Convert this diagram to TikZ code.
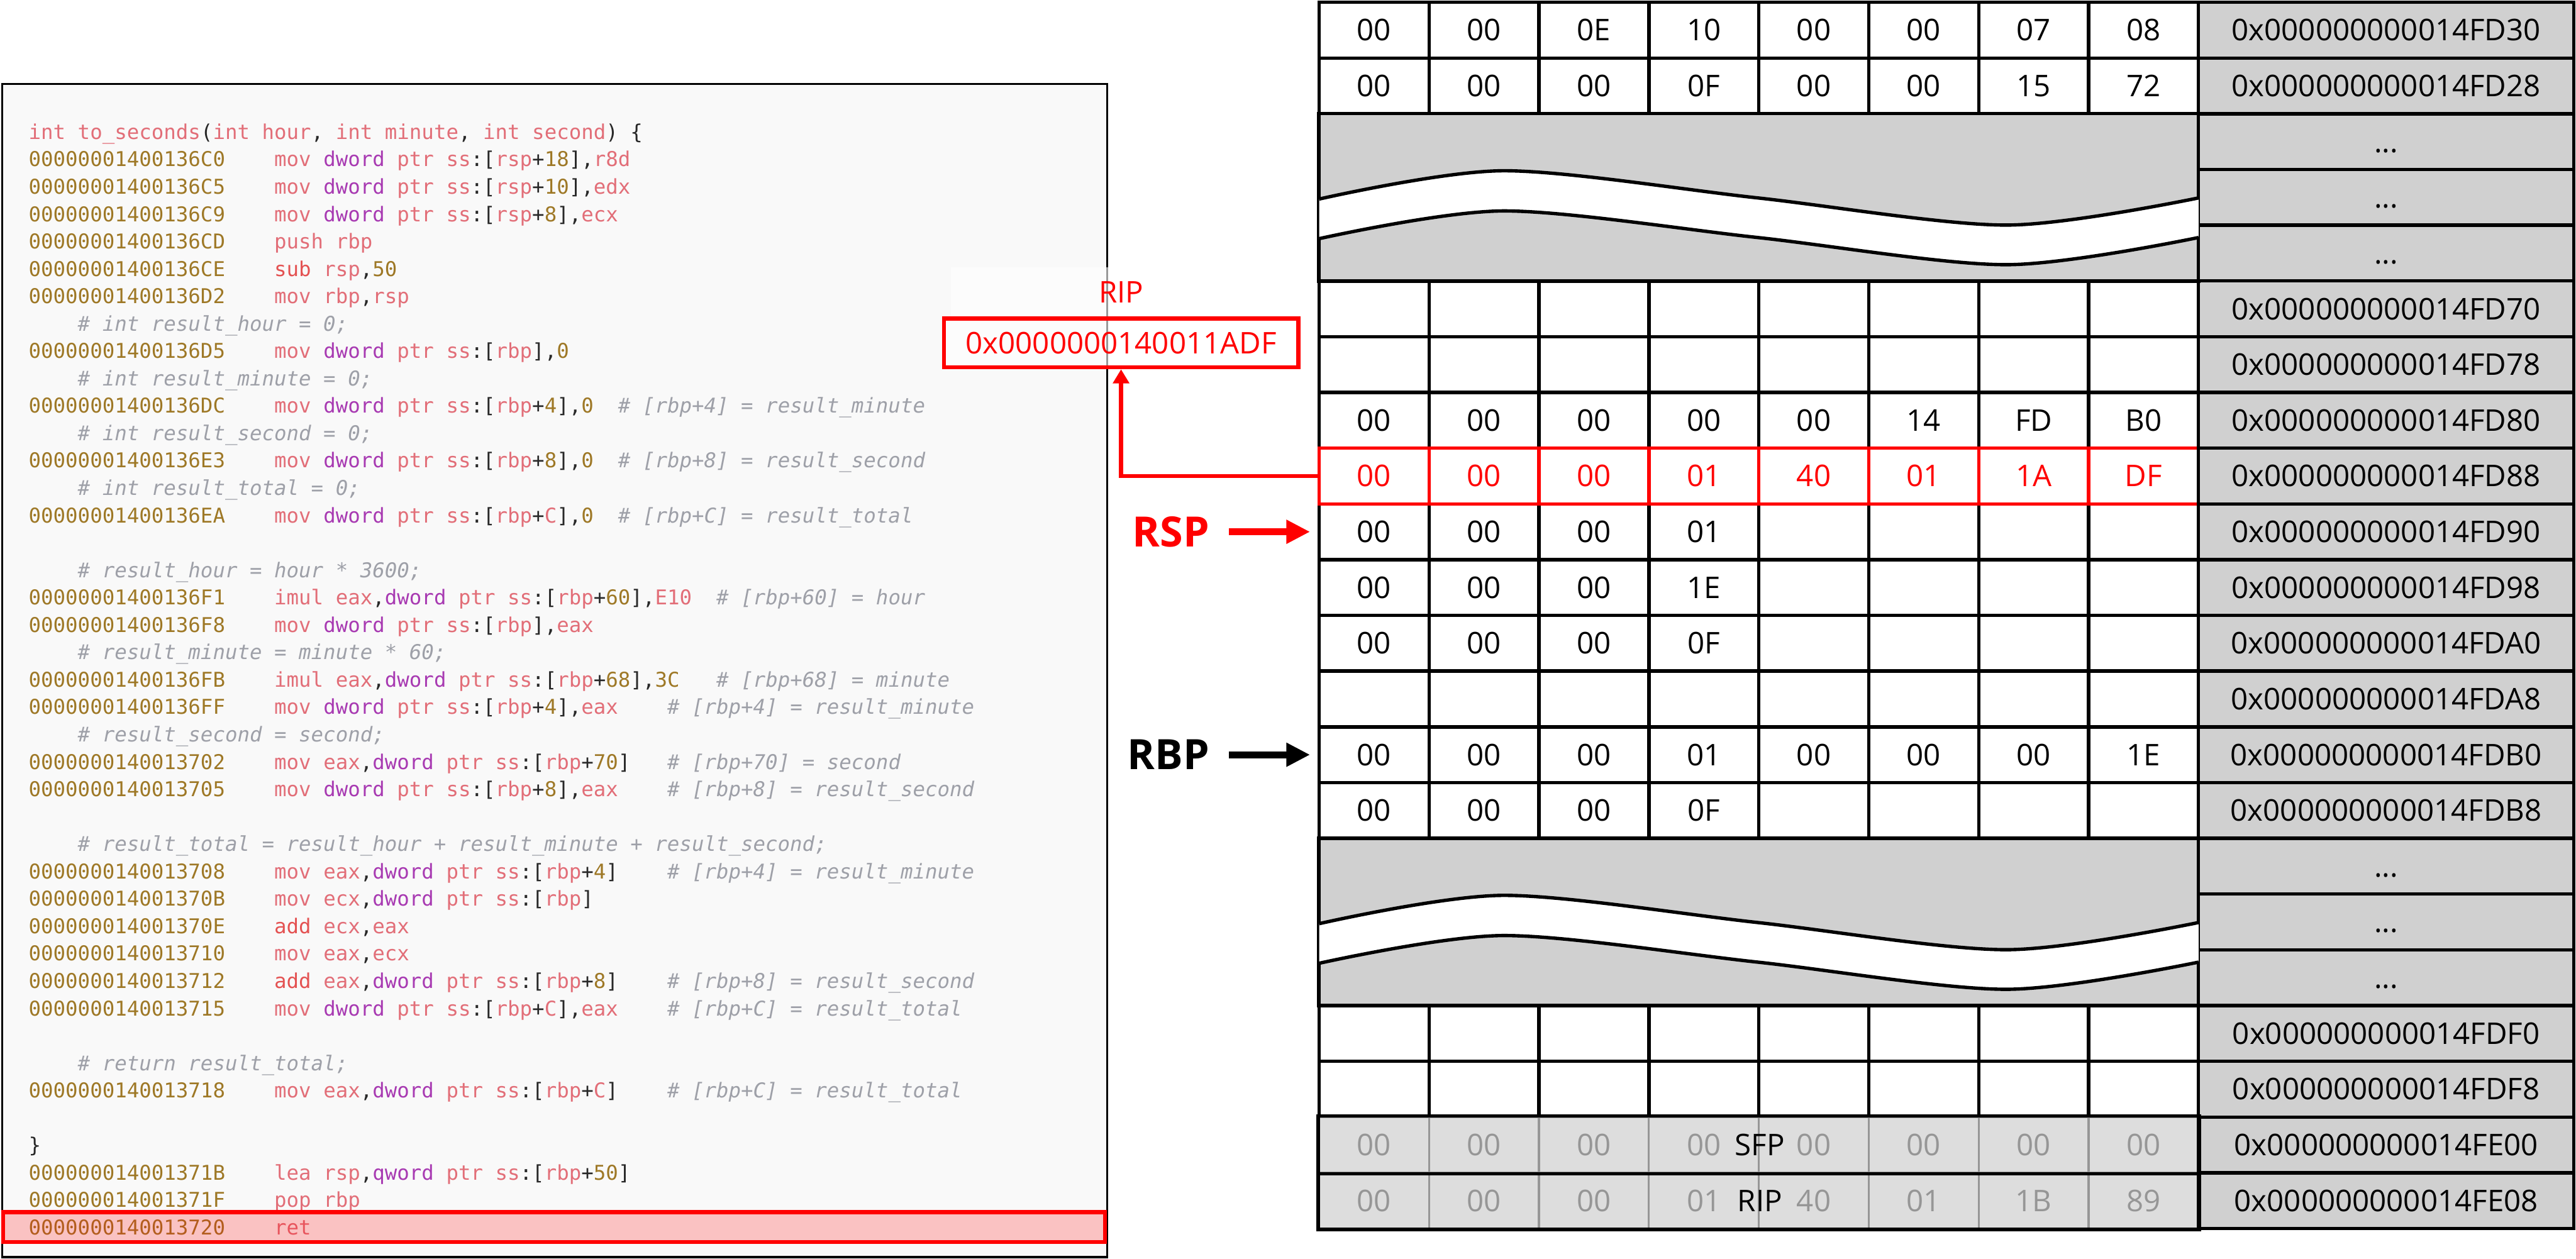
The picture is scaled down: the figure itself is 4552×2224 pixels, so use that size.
\documentclass[tikz,border=0pt]{standalone}
\usepackage{fontspec}
\setmainfont{Open Sans}
\setmonofont{DejaVu Sans Mono}
\usepackage{xcolor}
\usetikzlibrary{arrows.meta,positioning}

\definecolor{addrgold}{RGB}{158,120,38}
\definecolor{opink}{RGB}{226,110,120}
\definecolor{opred}{RGB}{228,82,82}
\definecolor{ptrpurple}{RGB}{168,58,178}
\definecolor{cmtgray}{RGB}{158,160,168}
\definecolor{punct}{RGB}{40,40,40}
\definecolor{panelbg}{RGB}{249,249,249}
\definecolor{tblgray}{RGB}{208,208,208}
\definecolor{fadegray}{RGB}{221,221,221}
\definecolor{fadetxt}{RGB}{150,150,150}
\definecolor{hotred}{RGB}{255,0,0}

% --- listing colours ---
\newcommand\addr[1]{\textcolor{addrgold}{#1}}
\newcommand\opc[1]{\textcolor{opink}{#1}}
\newcommand\opr[1]{\textcolor{opred}{#1}}
\newcommand\ptrw[1]{\textcolor{ptrpurple}{#1}}
\newcommand\hexv[1]{\textcolor{addrgold}{#1}}
\newcommand\cmt[1]{\textcolor{cmtgray}{\itshape #1}}

\begin{document}
\frenchspacing
\begin{tikzpicture}[
  % --- global style ---
  x=0.01cm, y=-0.01cm,
  >=Stealth,
  codepanel/.style={
    draw=black, line width=1pt, fill=panelbg,
    minimum width=19.52cm, minimum height=20.72cm, inner sep=0pt
  },
  codeln/.style={
    anchor=base west, inner sep=0pt, text=punct,
    font=\ttfamily\fontsize{10.25}{12}\selectfont
  },
  retmark/.style={
    draw=hotred, line width=2pt, fill=hotred, fill opacity=0.22,
    minimum width=19.46cm, minimum height=0.53cm, inner sep=0pt
  },
  cell/.style={
    draw=black, line width=1.7pt, fill=white, inner sep=0pt,
    minimum width=1.9425cm, minimum height=0.985cm
  },
  hotcell/.style={cell, draw=hotred},
  fadecell/.style={cell, draw=fadetxt, line width=1pt, fill=fadegray},
  addrcell/.style={
    cell, fill=tblgray, minimum width=6.63cm,
    text height=10.7pt, text depth=0pt, font=\fontsize{15}{18}\selectfont
  },
  byte/.style={
    inner sep=0pt, text height=10.7pt, text depth=0pt,
    font=\fontsize{15}{18}\selectfont
  },
  brk/.style={
    draw=black, line width=1.7pt, fill=tblgray, inner sep=0pt,
    minimum width=15.54cm, minimum height=2.955cm
  },
  wave/.style={draw=black, line width=1.7pt},
  ptrlbl/.style={inner sep=0pt, font=\bfseries\fontsize{21}{24}\selectfont},
  ptrarr/.style={
    -{Triangle[length=0.42cm,width=0.40cm]}, line width=3.4pt,
    shorten <=0.34cm, shorten >=0.13cm
  },
  ripbox/.style={
    draw=hotred, line width=2pt, fill=white, fill opacity=0.6, text opacity=1,
    text=hotred, minimum width=6.26cm, minimum height=0.86cm, inner sep=0pt,
    font=\fontsize{15}{18}\selectfont
  },
  riplbl/.style={
    fill=white, fill opacity=0.6, text opacity=1, text=hotred,
    minimum width=6cm, minimum height=0.86cm, inner sep=0pt,
    font=\fontsize{15}{18}\selectfont
  },
  hotarr/.style={-{Triangle[length=0.25cm,width=0.28cm]}, draw=hotred, line width=2pt},
]
\def\xa{2331}
\def\cw{194.25}
\def\ya{4}
\def\rh{98.5}
\useasboundingbox (0,0) rectangle (4552,2224);

% ====== Left: disassembly listing ======
\node[codepanel] (panel) at (980,1185) {};

\foreach \src [count=\i from 0] in {
  {\opc{int to\_seconds}(\opc{int hour}, \opc{int minute}, \opc{int second}) \{},
  {\addr{00000001400136C0}~~~~\opc{mov} \ptrw{dword} \opc{ptr ss}:[\opc{rsp}+\hexv{18}],\opc{r8d}},
  {\addr{00000001400136C5}~~~~\opc{mov} \ptrw{dword} \opc{ptr ss}:[\opc{rsp}+\hexv{10}],\opc{edx}},
  {\addr{00000001400136C9}~~~~\opc{mov} \ptrw{dword} \opc{ptr ss}:[\opc{rsp}+\hexv{8}],\opc{ecx}},
  {\addr{00000001400136CD}~~~~\opc{push rbp}},
  {\addr{00000001400136CE}~~~~\opr{sub} \opc{rsp},\hexv{50}},
  {\addr{00000001400136D2}~~~~\opc{mov rbp},\opc{rsp}},
  {~~~~\cmt{\# int result\_hour = 0;}},
  {\addr{00000001400136D5}~~~~\opc{mov} \ptrw{dword} \opc{ptr ss}:[\opc{rbp}],\hexv{0}},
  {~~~~\cmt{\# int result\_minute = 0;}},
  {\addr{00000001400136DC}~~~~\opc{mov} \ptrw{dword} \opc{ptr ss}:[\opc{rbp}+\hexv{4}],\hexv{0}~~\cmt{\# [rbp+4] = result\_minute}},
  {~~~~\cmt{\# int result\_second = 0;}},
  {\addr{00000001400136E3}~~~~\opc{mov} \ptrw{dword} \opc{ptr ss}:[\opc{rbp}+\hexv{8}],\hexv{0}~~\cmt{\# [rbp+8] = result\_second}},
  {~~~~\cmt{\# int result\_total = 0;}},
  {\addr{00000001400136EA}~~~~\opc{mov} \ptrw{dword} \opc{ptr ss}:[\opc{rbp}+\opc{C}],\hexv{0}~~\cmt{\# [rbp+C] = result\_total}},
  {},
  {~~~~\cmt{\# result\_hour = hour * 3600;}},
  {\addr{00000001400136F1}~~~~\opc{imul eax},\ptrw{dword} \opc{ptr ss}:[\opc{rbp}+\hexv{60}],\opc{E10}~~\cmt{\# [rbp+60] = hour}},
  {\addr{00000001400136F8}~~~~\opc{mov} \ptrw{dword} \opc{ptr ss}:[\opc{rbp}],\opc{eax}},
  {~~~~\cmt{\# result\_minute = minute * 60;}},
  {\addr{00000001400136FB}~~~~\opc{imul eax},\ptrw{dword} \opc{ptr ss}:[\opc{rbp}+\hexv{68}],\hexv{3C}~~~\cmt{\# [rbp+68] = minute}},
  {\addr{00000001400136FF}~~~~\opc{mov} \ptrw{dword} \opc{ptr ss}:[\opc{rbp}+\hexv{4}],\opc{eax}~~~~\cmt{\# [rbp+4] = result\_minute}},
  {~~~~\cmt{\# result\_second = second;}},
  {\addr{0000000140013702}~~~~\opc{mov eax},\ptrw{dword} \opc{ptr ss}:[\opc{rbp}+\hexv{70}]~~~\cmt{\# [rbp+70] = second}},
  {\addr{0000000140013705}~~~~\opc{mov} \ptrw{dword} \opc{ptr ss}:[\opc{rbp}+\hexv{8}],\opc{eax}~~~~\cmt{\# [rbp+8] = result\_second}},
  {},
  {~~~~\cmt{\# result\_total = result\_hour + result\_minute + result\_second;}},
  {\addr{0000000140013708}~~~~\opc{mov eax},\ptrw{dword} \opc{ptr ss}:[\opc{rbp}+\hexv{4}]~~~~\cmt{\# [rbp+4] = result\_minute}},
  {\addr{000000014001370B}~~~~\opc{mov ecx},\ptrw{dword} \opc{ptr ss}:[\opc{rbp}]},
  {\addr{000000014001370E}~~~~\opr{add} \opc{ecx},\opc{eax}},
  {\addr{0000000140013710}~~~~\opc{mov eax},\opc{ecx}},
  {\addr{0000000140013712}~~~~\opr{add} \opc{eax},\ptrw{dword} \opc{ptr ss}:[\opc{rbp}+\hexv{8}]~~~~\cmt{\# [rbp+8] = result\_second}},
  {\addr{0000000140013715}~~~~\opc{mov} \ptrw{dword} \opc{ptr ss}:[\opc{rbp}+\opc{C}],\opc{eax}~~~~\cmt{\# [rbp+C] = result\_total}},
  {},
  {~~~~\cmt{\# return result\_total;}},
  {\addr{0000000140013718}~~~~\opc{mov eax},\ptrw{dword} \opc{ptr ss}:[\opc{rbp}+\opc{C}]~~~~\cmt{\# [rbp+C] = result\_total}},
  {},
  {\}},
  {\addr{000000014001371B}~~~~\opc{lea rsp},\ptrw{qword} \opc{ptr ss}:[\opc{rbp}+\hexv{50}]},
  {\addr{000000014001371F}~~~~\opc{pop rbp}},
  {\addr{0000000140013720}~~~~\opc{ret}}}
  \node[codeln] (l\i) at (50,{246+\i*48.4}) {\src};

% current instruction
\node[retmark] (hl) at (979,2168.5) {};

% --- RIP register ---
\node[ripbox] (ripval) at (1981,606) {0x0000000140011ADF};
\node[riplbl, above=0pt of ripval] (ripname) {RIP};

% ====== Right: stack memory ======
\foreach \r/\vals/\adr in {
  0/{00,00,0E,10,00,00,07,08}/FD30,
  1/{00,00,00,0F,00,00,15,72}/FD28,
  5/{}/FD70,
  6/{}/FD78,
  7/{00,00,00,00,00,14,FD,B0}/FD80,
  9/{00,00,00,01}/FD90,
  10/{00,00,00,1E}/FD98,
  11/{00,00,00,0F}/FDA0,
  12/{}/FDA8,
  13/{00,00,00,01,00,00,00,1E}/FDB0,
  14/{00,00,00,0F}/FDB8,
  18/{}/FDF0,
  19/{}/FDF8}{
  \foreach \c in {1,...,8}
    \node[cell] (b\r-\c) at ({\xa+(\c-0.5)*\cw},{\ya+(\r+0.5)*\rh}) {};
  \foreach \v [count=\c] in \vals
    \node[byte] at (b\r-\c) {\v};
  \node[addrcell] (a\r) at (4216.5,{\ya+(\r+0.5)*\rh}) {0x000000000014\adr};
}

% --- skipped regions ---
\foreach \b/\u in {1/2, 2/15}{
  \pgfmathsetmacro\yc{\ya+(\u+1.5)*\rh}
  \node[brk] (brk\b) at ({\xa+4*\cw},\yc) {};
  \foreach \k in {0,1,2}{
    \pgfmathtruncatemacro\r{\u+\k}
    \node[addrcell] (a\r) at (4216.5,{\ya+(\r+0.5)*\rh}) {...};
  }
  \fill[white] plot[smooth] coordinates {(\xa,{\yc+3}) (2657,{\yc-47}) (3106,{\yc+1}) (3545,{\yc+49}) (3885,{\yc+1})}
    -- plot[smooth] coordinates {(3885,{\yc+71}) (3545,{\yc+119}) (3106,{\yc+71}) (2657,{\yc+24}) (\xa,{\yc+73})} -- cycle;
  \draw[wave] plot[smooth] coordinates {(\xa,{\yc+3}) (2657,{\yc-47}) (3106,{\yc+1}) (3545,{\yc+49}) (3885,{\yc+1})};
  \draw[wave] plot[smooth] coordinates {(\xa,{\yc+73}) (2657,{\yc+24}) (3106,{\yc+71}) (3545,{\yc+119}) (3885,{\yc+71})};
}

% --- return address slot ---
\foreach \v [count=\c] in {00,00,00,01,40,01,1A,DF}{
  \node[hotcell] (b8-\c) at ({\xa+(\c-0.5)*\cw},{\ya+8.5*\rh}) {};
  \node[byte, text=hotred] at (b8-\c) {\v};
}
\node[addrcell] (a8) at (4216.5,{\ya+8.5*\rh}) {0x000000000014FD88};

% --- caller frame (faded) ---
\foreach \r/\vals/\adr/\tag in {
  20/{00,00,00,00,00,00,00,00}/FE00/SFP,
  21/{00,00,00,01,40,01,1B,89}/FE08/RIP}{
  \foreach \v [count=\c] in \vals{
    \node[fadecell] (b\r-\c) at ({\xa+(\c-0.5)*\cw},{\ya+(\r+0.5)*\rh}) {};
    \node[byte, text=fadetxt] at (b\r-\c) {\v};
  }
  \node[addrcell] (a\r) at (4216.5,{\ya+(\r+0.5)*\rh}) {0x000000000014\adr};
  \node[byte] (tag\r) at (b\r-4.east) {\tag};
}
\draw[line width=1.7pt] (b20-1.north west) rectangle (b21-8.south east);
\draw[line width=1.7pt] (b20-1.south west) -- (b20-8.south east);

% ====== Pointers ======
\node[ptrlbl, text=hotred, left=1.9cm of b9-1] (rsp) {RSP};
\node[ptrlbl, left=1.9cm of b13-1] (rbp) {RBP};
\draw[ptrarr, hotred] (rsp) -- (b9-1.west);
\draw[ptrarr] (rbp) -- (b13-1.west);

% ret pops the slot into RIP
\draw[hotarr] (b8-1.west) -| (ripval.south);

\end{tikzpicture}
\end{document}
